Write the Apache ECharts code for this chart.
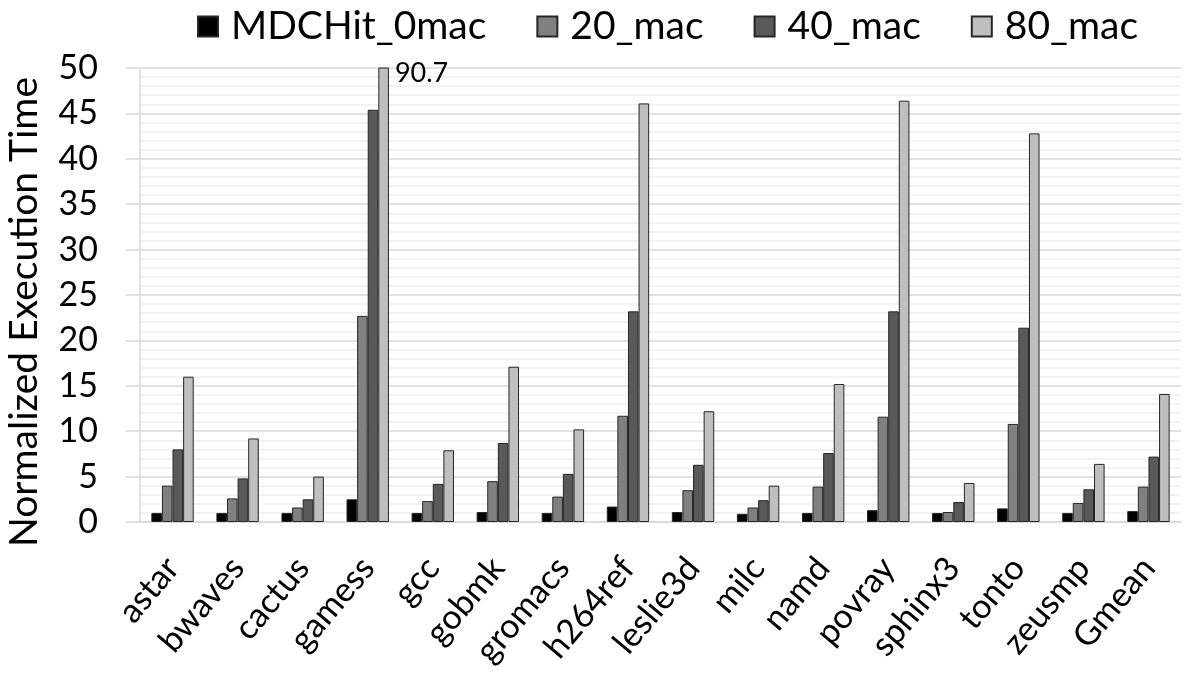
<!DOCTYPE html>
<html>
<head>
<meta charset="utf-8">
<title>Normalized Execution Time</title>
<script src="https://cdn.jsdelivr.net/npm/echarts@6/dist/echarts.min.js"></script>
<style>
  html, body { margin: 0; padding: 0; background: #fff; }
  #chart { width: 1196px; height: 677px; }
</style>
</head>
<body>
<div id="chart"></div>
<script>
// 基准程序
const categories = ['astar', 'bwaves', 'cactus', 'gamess', 'gcc', 'gobmk', 'gromacs', 'h264ref',
  'leslie3d', 'milc', 'namd', 'povray', 'sphinx3', 'tonto', 'zeusmp', 'Gmean'];

const seriesNames = ['MDCHit_0mac', '20_mac', '40_mac', '80_mac'];

// 各配置的归一化执行时间
const mac0 = [1.0, 1.0, 1.0, 2.5, 1.0, 1.1, 1.0, 1.7, 1.1, 0.9, 1.0, 1.3, 1.0, 1.5, 1.0, 1.2];
const mac20 = [4.0, 2.6, 1.6, 22.7, 2.3, 4.5, 2.8, 11.7, 3.5, 1.6, 3.9, 11.6, 1.1, 10.8, 2.1, 3.9];
const mac40 = [8.0, 4.8, 2.5, 45.4, 4.2, 8.7, 5.3, 23.2, 6.3, 2.4, 7.6, 23.2, 2.2, 21.4, 3.6, 7.2];
const mac80 = [16.0, 9.2, 5.0, 90.7, 7.9, 17.1, 10.2, 46.1, 12.2, 4.0, 15.2, 46.4, 4.3, 42.8, 6.4, 14.1];

const yMin = 0;
const yMax = 50;
const yStep = 5;

const colors = ['#000000', '#808080', '#595959', '#bfbfbf'];
const FONT = 'Lato';

const chart = echarts.init(document.getElementById('chart'));

// 超出坐标轴的柱子在顶端标出实际数值
function withOverflowLabel(values) {
  return values.map(v => {
    if (v <= yMax) return v;
    return {
      value: v,
      label: {
        show: true,
        position: ['100%', 0],
        align: 'left',
        verticalAlign: 'top',
        offset: [6, -8],
        formatter: String(v),
        fontFamily: FONT,
        fontSize: 27,
        color: '#000'
      }
    };
  });
}

const allData = [mac0, mac20, mac40, mac80];

chart.setOption({
  animation: false,
  legend: {
    top: 2,
    left: 192,
    itemWidth: 20,
    itemHeight: 20,
    itemGap: 50,
    icon: 'rect',
    textStyle: { fontFamily: FONT, fontSize: 39, color: '#000', padding: [0, 0, 0, 8] },
    data: seriesNames
  },
  grid: { left: 140, right: 15, top: 68, bottom: 155, outerBoundsMode: 'none', containLabel: false },
  xAxis: {
    type: 'category',
    data: categories,
    axisLine: { lineStyle: { color: '#d9d9d9', width: 1.5 } },
    axisTick: { length: 13, lineStyle: { color: '#d9d9d9', width: 1.5 } },
    axisLabel: {
      rotate: 50,
      interval: 0,
      margin: 40,
      fontFamily: FONT,
      fontSize: 34,
      color: '#000'
    }
  },
  yAxis: {
    type: 'value',
    min: yMin,
    max: yMax,
    interval: yStep,
    name: 'Normalized Execution Time',
    nameLocation: 'middle',
    nameGap: 96,
    nameTextStyle: { fontFamily: FONT, fontSize: 39, color: '#000', padding: [0, 34, 0, 0] },
    axisLine: { show: true, lineStyle: { color: '#d9d9d9', width: 1.5 } },
    axisTick: { show: true, length: 14, lineStyle: { color: '#d9d9d9', width: 1.5 } },
    axisLabel: { margin: 42, fontFamily: FONT, fontSize: 34, color: '#000' },
    splitLine: { lineStyle: { color: '#d9d9d9', width: 1.5 } },
    minorTick: { show: false, splitNumber: 5 },
    minorSplitLine: { show: true, lineStyle: { color: '#f0f0f0', width: 1.5 } }
  },
  series: seriesNames.map((name, i) => ({
    name: name,
    type: 'bar',
    barWidth: 10.6,
    barGap: '0%',
    clip: true,
    itemStyle: {
      color: colors[i],
      borderColor: '#262626',
      borderWidth: 1
    },
    data: withOverflowLabel(allData[i])
  }))
});
</script>
</body>
</html>
